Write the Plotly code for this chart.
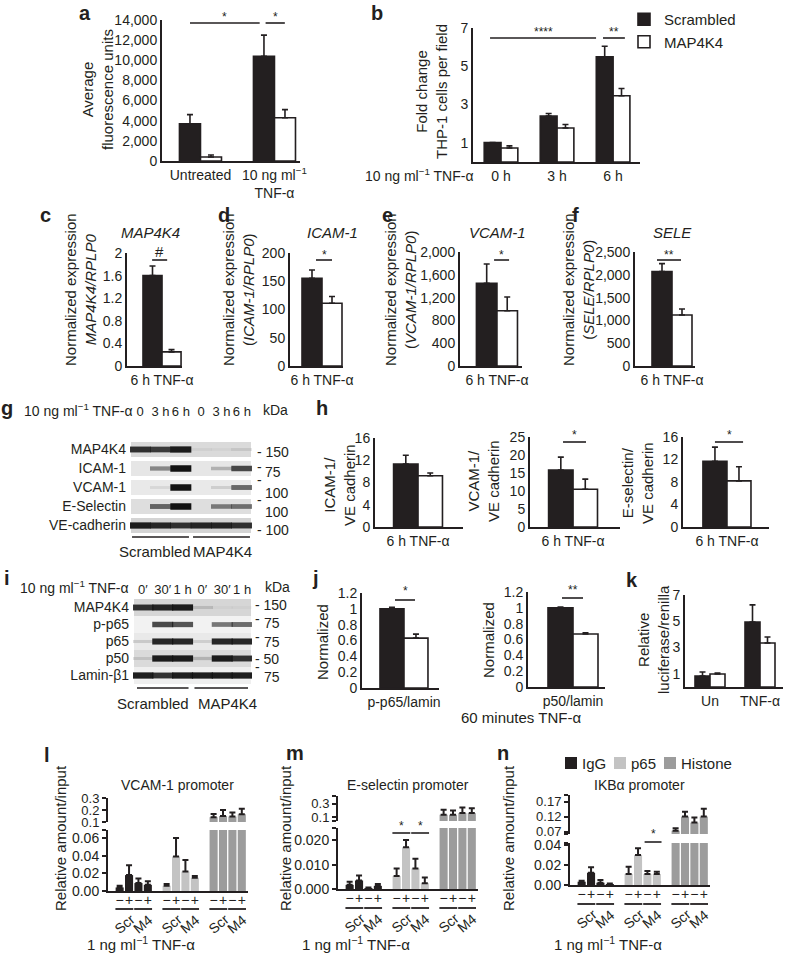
import plotly.graph_objects as go

W, H = 786, 961
FONT = "Liberation Sans, Arial, Helvetica, sans-serif"
INK = "#231f20"
SCR_COLOR = "#231f20"
M4_COLOR = "#ffffff"
IGG_COLOR = "#231f20"
P65_COLOR = "#c3c3c3"
HIS_COLOR = "#9c9c9c"

# ---------------- data ----------------
series_names = ["Scrambled", "MAP4K4"]

# a
a_cats = ["Untreated", "10 ng ml<sup>−1</sup><br>TNF-α"]
a_scr = [3700, 10400]
a_scr_err = [900, 2100]
a_m4 = [400, 4300]
a_m4_err = [200, 800]
a_yticks = [0, 2000, 4000, 6000, 8000, 10000, 12000, 14000]

# b
b_cats = ["0 h", "3 h", "6 h"]
b_scr = [1.02, 2.4, 5.5]
b_scr_err = [0, 0.13, 0.55]
b_m4 = [0.73, 1.78, 3.46]
b_m4_err = [0.11, 0.18, 0.38]
b_yticks = [1, 3, 5, 7]

# c-f (6 h TNF-α)
six_h = ["6 h TNF-α"]
c_scr, c_scr_err, c_m4, c_m4_err = [1.6], [0.17], [0.25], [0.04]
c_yticks = [0, 0.4, 0.8, 1.2, 1.6, 2]
d_scr, d_scr_err, d_m4, d_m4_err = [155], [15], [111], [12]
d_yticks = [0, 50, 100, 150, 200]
e_scr, e_scr_err, e_m4, e_m4_err = [1450], [340], [970], [240]
e_yticks = [0, 400, 800, 1200, 1600, 2000]
f_scr, f_scr_err, f_m4, f_m4_err = [2070], [175], [1120], [130]
f_yticks = [0, 500, 1000, 1500, 2000, 2500]
gene_titles = ["MAP4K4", "ICAM-1", "VCAM-1", "SELE"]

# g (western blot, band intensity 0-1)
g_lanes = ["0", "3 h", "6 h", "0", "3 h", "6 h"]
g_rows = ["MAP4K4", "ICAM-1", "VCAM-1", "E-Selectin", "VE-cadherin"]
g_kda = ["150", "75", "100", "100", "100"]
g_bands = [
    [0.85, 0.8, 0.95, 0.05, 0.04, 0.1],
    [0.0, 0.45, 1.0, 0.0, 0.25, 0.75],
    [0.0, 0.08, 1.0, 0.0, 0.12, 0.6],
    [0.0, 0.6, 1.0, 0.0, 0.5, 0.55],
    [0.95, 0.9, 0.85, 0.9, 0.9, 0.85],
]
blot_groups = ["Scrambled", "MAP4K4"]

# h
h1_scr, h1_scr_err, h1_m4, h1_m4_err = [11.3], [1.6], [9.2], [0.5]
h2_scr, h2_scr_err, h2_m4, h2_m4_err = [15.8], [3.6], [10.5], [2.8]
h3_scr, h3_scr_err, h3_m4, h3_m4_err = [11.7], [2.5], [8.2], [2.5]
h1_yticks = [0, 4, 8, 12, 16]
h2_yticks = [0, 5, 10, 15, 20, 25]
h3_yticks = [0, 4, 8, 12, 16]

# i (western blot)
i_lanes = ["0′", "30′", "1 h", "0′", "30′", "1 h"]
i_rows = ["MAP4K4", "p-p65", "p65", "p50", "Lamin-β1"]
i_kda = ["150", "75", "75", "50", "75"]
i_bands = [
    [0.85, 0.9, 0.95, 0.15, 0.03, 0.03],
    [0.0, 0.75, 0.7, 0.0, 0.55, 0.6],
    [0.15, 0.9, 0.9, 0.12, 0.9, 0.9],
    [0.12, 0.95, 0.95, 0.2, 0.95, 0.85],
    [0.95, 0.85, 0.95, 0.95, 0.95, 0.95],
]

# j
j1_cats = ["p-p65/lamin"]
j2_cats = ["p50/lamin"]
j1_scr, j1_scr_err, j1_m4, j1_m4_err = [1.0], [0.02], [0.63], [0.05]
j2_scr, j2_scr_err, j2_m4, j2_m4_err = [1.0], [0.01], [0.67], [0.015]
j_yticks = [0, 0.2, 0.4, 0.6, 0.8, 1, 1.2]

# k
k_cats = ["Un", "TNF-α"]
k_scr, k_scr_err = [0.84, 4.95], [0.3, 1.3]
k_m4, k_m4_err = [0.99, 3.35], [0.08, 0.45]
k_yticks = [1, 3, 5, 7]

# l, m, n (ChIP)
chip_ab = ["IgG", "p65", "Histone"]
chip_tnf = ["−", "+", "−", "+"]
chip_sh = ["Scr", "M4"]
l_igg, l_igg_err = [0.004, 0.018, 0.009, 0.007], [0.002, 0.011, 0.005, 0.004]
l_p65, l_p65_err = [0.006, 0.039, 0.022, 0.015], [0.002, 0.021, 0.013, 0.002]
l_his, l_his_err = [0.14, 0.15, 0.145, 0.165], [0.027, 0.05, 0.035, 0.045]
m_igg, m_igg_err = [0.0017, 0.0035, 0.0004, 0.0013], [0.0013, 0.002, 0.0002, 0.0008]
m_p65, m_p65_err = [0.0053, 0.0171, 0.0084, 0.0024], [0.0031, 0.003, 0.004, 0.0023]
m_his, m_his_err = [0.135, 0.135, 0.16, 0.16], [0.075, 0.065, 0.085, 0.075]
n_igg, n_igg_err = [0.0033, 0.0123, 0.0023, 0.001], [0.001, 0.0054, 0.0027, 0.0004]
n_p65, n_p65_err = [0.011, 0.030, 0.011, 0.011], [0.0073, 0.0067, 0.003, 0.0023]
n_his, n_his_err = [0.074, 0.121, 0.101, 0.121], [0.008, 0.016, 0.017, 0.026]
l_up_ticks, l_lo_ticks = [0.1, 0.2, 0.3], [0, 0.02, 0.04, 0.06]
m_up_ticks, m_lo_ticks = [0.1, 0.3], [0, 0.01, 0.02]
n_up_ticks, n_lo_ticks = [0.07, 0.12, 0.17], [0, 0.02, 0.04]
promoters = ["VCAM-1 promoter", "E-selectin promoter", "IKBα promoter"]

# ---------------- figure ----------------
fig = go.Figure()
L = {}
ann = []
shp = []
n_ax = [0]


def fy(y):
    return 1 - y / H


def axes(xb, yb, xr, yr, xo=None, yo=None):
    n_ax[0] += 1
    s = "" if n_ax[0] == 1 else str(n_ax[0])
    base = dict(showgrid=False, zeroline=False, showline=True, linecolor=INK,
                linewidth=2, ticks="", tickfont=dict(size=14, color=INK), fixedrange=True,
                tickangle=0)
    xa = dict(base, domain=[xb[0] / W, xb[1] / W], range=xr, anchor="y" + s)
    ya = dict(base, domain=[fy(yb[1]), fy(yb[0])], range=yr, anchor="x" + s)
    if xo:
        xa.update(xo)
    if yo:
        ya.update(yo)
    L["xaxis" + s] = xa
    L["yaxis" + s] = ya
    return "x" + s, "y" + s


def extra_y(xname, yb, yr, yo):
    n_ax[0] += 1
    s = str(n_ax[0])
    ya = dict(showgrid=False, zeroline=False, showline=True, linecolor=INK, linewidth=2,
              tickfont=dict(size=13, color=INK), domain=[fy(yb[1]), fy(yb[0])], range=yr,
              anchor=xname, fixedrange=True)
    ya.update(yo)
    L["yaxis" + s] = ya
    return "y" + s


def err(e):
    return dict(type="data", symmetric=False, array=e, arrayminus=[0] * len(e),
                color=INK, thickness=1.6, width=3)


def pair_panel(xb, yb, xr, yr, cats, scr, scr_e, m4, m4_e, bw, yticks, yfmt="", legend=False):
    pos = list(range(len(cats)))
    xa, ya = axes(xb, yb, xr, yr,
                  xo=dict(tickvals=pos, ticktext=cats),
                  yo=dict(tickmode="array", tickvals=yticks, tickformat=yfmt))
    for vals, e, col, name, sgn in [(scr, scr_e, SCR_COLOR, series_names[0], -1),
                                    (m4, m4_e, M4_COLOR, series_names[1], 1)]:
        fig.add_trace(go.Bar(x=[p + sgn * bw / 2 for p in pos], y=vals, width=bw, name=name,
                             marker=dict(color=col, line=dict(color=INK, width=1.6)),
                             error_y=err(e), xaxis=xa, yaxis=ya, showlegend=legend,
                             legend="legend", hoverinfo="skip"))
    return xa, ya


def sig(xa, x0, x1, yl, yt, text, size=12):
    shp.append(dict(type="line", xref=xa, yref="paper", x0=x0, x1=x1, y0=fy(yl), y1=fy(yl),
                    line=dict(color=INK, width=1.6)))
    ann.append(dict(xref=xa, yref="paper", x=(x0 + x1) / 2, y=fy(yt), text=text, showarrow=False,
                    font=dict(size=size, color=INK), xanchor="center", yanchor="middle"))


def text(x, y, t, size=15, angle=0, xanchor="center", bold=False):
    if bold:
        t = "<b>" + t + "</b>"
    ann.append(dict(xref="paper", yref="paper", x=x / W, y=fy(y), text=t, showarrow=False,
                    textangle=angle, font=dict(size=size, color=INK), xanchor=xanchor,
                    yanchor="middle"))


# ---- a ----
xa, _ = pair_panel((162, 300), (20, 161), [-0.52, 1.345], [0, 14000], a_cats, a_scr, a_scr_err,
                   a_m4, a_m4_err, 0.284, a_yticks, ",")
sig(xa, -0.142, 0.80, 23, 17, "*")
sig(xa, 0.88, 1.14, 23, 17, "*")
text(97, 90, "Average<br>fluorescence units", angle=-90)

# ---- b ----
xa, _ = pair_panel((473, 640), (28, 162), [-0.5, 2.48], [0, 7], b_cats, b_scr, b_scr_err,
                   b_m4, b_m4_err, 0.30, b_yticks, "", legend=True)
sig(xa, -0.196, 1.696, 38, 32, "****")
sig(xa, 1.82, 2.21, 38, 32, "**")
text(432, 92, "Fold change<br>THP-1 cells per field", angle=-90)
text(475, 175, "10 ng ml<sup>−1</sup> TNF-α", size=14, xanchor="right")

# ---- c-f ----
specs_cf = [
    ((127, 182), (253, 366), [-1.84, 1.05], c_scr, c_scr_err, c_m4, c_m4_err, c_yticks, "",
     (-0.52, 0.27, "#", 15), (80, "Normalized expression<br><i>MAP4K4/RPLP0</i>"), 150),
    ((290, 343), (253, 366), [-1.6, 1.05], d_scr, d_scr_err, d_m4, d_m4_err, d_yticks, "",
     (-0.3, 0.5, "*", 12), (238, "Normalized expression<br>(<i>ICAM-1/RPLP0</i>)"), 332),
    ((460, 522), (252, 366), [-1.8, 1.22], e_scr, e_scr_err, e_m4, e_m4_err, e_yticks, ",",
     (-0.14, 0.59, "*", 12), (400, "Normalized expression<br>(<i>VCAM-1/RPLP0</i>)"), 498),
    ((635, 695), (252, 366), [-1.85, 1.15], f_scr, f_scr_err, f_m4, f_m4_err, f_yticks, ",",
     (-0.75, 0.45, "**", 12), (578, "Normalized expression<br>(<i>SELE/RPLP0</i>)"), 672),
]
for k, (xb, yb, xr, s_, se, m_, me, yt, fmt, sg, yt_title, tx) in enumerate(specs_cf):
    top = max(yt)
    xa, _ = pair_panel(xb, yb, xr, [0, top], six_h, s_, se, m_, me, 1.0, yt, fmt)
    sig(xa, sg[0], sg[1], 260, 252 if sg[2] == "#" else 255, sg[2], sg[3])
    text(yt_title[0], 290, yt_title[1], angle=-90)
    text(tx, 232, "<i>" + gene_titles[k] + "</i>", size=15)


# ---- blots ----
def blot(xb, yb, lanes, rows, bands, bgs, half, standoff):
    nr = len(rows)
    xa, ya = axes(xb, yb, [-0.5, 5.5], [nr - 0.5, -0.5],
                  xo=dict(side="top", showline=False, tickvals=list(range(6)), ticktext=lanes,
                          ticklabelstandoff=standoff, tickfont=dict(size=13, color=INK)),
                  yo=dict(showline=False, tickvals=list(range(nr)), ticktext=rows,
                          ticklabelstandoff=3))
    for r in range(nr):
        shp.append(dict(type="rect", xref=xa, yref=ya, x0=-0.45, x1=5.45, y0=r - half, y1=r + half,
                        fillcolor=bgs[r], line_width=0, layer="below"))
    xs, ys, cols, wids = [], [], [], []
    for r, row in enumerate(bands):
        for c, v in enumerate(row):
            xs.append(c)
            ys.append(r)
            cols.append("rgba(18,18,18,%.2f)" % v)
            wids.append(2.5 + 4.0 * v)
    fig.add_trace(go.Scatter(x=xs, y=ys, mode="markers", xaxis=xa, yaxis=ya, showlegend=False,
                             hoverinfo="skip",
                             marker=dict(symbol="line-ew", size=15, color="rgba(0,0,0,0)",
                                         line=dict(color=cols, width=wids))))
    return xa, ya


def blot_groups_marks(xax, spans, line_y, label_x, label_y):
    for gi, (a0, a1) in enumerate(spans):
        shp.append(dict(type="line", xref=xax, yref="paper", x0=a0, x1=a1, y0=fy(line_y),
                        y1=fy(line_y), line=dict(color=INK, width=1.6)))
        ann.append(dict(xref=xax, yref="paper", x=label_x[gi], y=fy(label_y), text=blot_groups[gi],
                        showarrow=False, font=dict(size=15, color=INK), yanchor="middle"))


def kda_marks(labels, label_ys, dash_ys, dash_x, label_x):
    for lab, ly, dy in zip(labels, label_ys, dash_ys):
        if ly == dy:
            text(dash_x, ly, "- " + lab, size=14, xanchor="left")
        else:
            text(dash_x, dy, "-", size=14, xanchor="left")
            text(label_x, ly, lab, size=14, xanchor="left")


xg, _ = blot((130, 252), (440, 535), g_lanes, g_rows, g_bands,
             ["#dadada", "#e6e6e6", "#e9e9e9", "#dedede", "#d4d4d4"], 0.4, 20)
blot_groups_marks(xg, [(-0.4, 2.4), (2.6, 5.4)], 537, [0.73, 4.07], 551)
text(22, 410, "10 ng ml<sup>−1</sup> TNF-α", size=14, xanchor="left")
text(275, 410, "kDa", size=14)
kda_marks(g_kda, [452, 472, 493, 512, 530], [452, 467, 480, 500, 530], 255, 263)

xi, _ = blot((133, 252), (599, 684), i_lanes, i_rows, i_bands,
             ["#d6d6d6", "#f2f2f2", "#e9e9e9", "#dadada", "#efefef"], 0.5, 1)
blot_groups_marks(xi, [(-0.3, 2.3), (2.6, 5.3)], 688, [0.51, 4.24], 703)
text(18, 587, "10 ng ml<sup>−1</sup> TNF-α", size=14, xanchor="left")
text(277, 587, "kDa", size=14)
kda_marks(i_kda, [605, 623, 642, 659, 677], [605, 619, 637, 659, 667], 253, 262)

# ---- h ----
xa, _ = pair_panel((375, 463), (438, 527), [-1.76, 1.84], [0, 16], six_h, h1_scr, h1_scr_err,
                   h1_m4, h1_m4_err, 1.0, h1_yticks)
text(339, 485, "ICAM-1/<br>VE cadherin", angle=-90)
xa, _ = pair_panel((530, 620), (437, 527), [-1.76, 1.92], [0, 25], six_h, h2_scr, h2_scr_err,
                   h2_m4, h2_m4_err, 1.0, h2_yticks)
sig(xa, -0.41, 0.53, 442, 435, "*")
text(484, 481, "VCAM-1/<br>VE cadherin", angle=-90)
xa, _ = pair_panel((683, 769), (437, 527), [-1.83, 1.75], [0, 16], six_h, h3_scr, h3_scr_err,
                   h3_m4, h3_m4_err, 1.0, h3_yticks)
sig(xa, -0.5, 0.67, 442, 435, "*")
text(638, 483, "E-selectin/<br>VE cadherin", angle=-90)

# ---- j ----
xa, _ = pair_panel((362, 439), (593, 688), [-1.75, 1.46], [0, 1.2], j1_cats, j1_scr, j1_scr_err,
                   j1_m4, j1_m4_err, 1.0, j_yticks)
sig(xa, -0.375, 0.46, 600, 591, "*")
text(322, 642, "Normalized", angle=-90)
xa, _ = pair_panel((528, 605), (592, 687), [-1.8, 1.28], [0, 1.2], j2_cats, j2_scr, j2_scr_err,
                   j2_m4, j2_m4_err, 1.0, j_yticks)
sig(xa, -0.44, 0.4, 598, 590, "**")
text(488, 640, "Normalized", angle=-90)
text(521, 717, "60 minutes TNF-α", size=15)

# ---- k ----
xa, _ = pair_panel((685, 783), (595, 687), [-0.5, 1.46], [0, 7], k_cats, k_scr, k_scr_err,
                   k_m4, k_m4_err, 0.30, k_yticks)
text(653, 640, "Relative<br>luciferase/renilla", angle=-90)


# ---- l, m, n ----
def chip_panel(xb, yb_up, yb_lo, yr_up, yr_lo, up_t, up_fmt, lo_t, lo_fmt, data, title, under_y):
    positions = [5 * g + k for g in range(3) for k in range(4)]
    lo_vals = lo_t + [yr_lo[1]]
    lo_txt = [format(v, lo_fmt) for v in lo_t] + [""]
    xa, ya_lo = axes(xb, yb_lo, [-1.24, 13.66], yr_lo,
                     xo=dict(tickvals=positions, ticktext=chip_tnf * 3, tickangle=0,
                             ticklabelstandoff=-5),
                     yo=dict(ticks="outside", ticklen=4, tickwidth=2, tickcolor=INK,
                             tickvals=lo_vals, ticktext=lo_txt))
    up_vals = list(up_t)
    up_txt = [format(v, up_fmt) for v in up_t]
    for end in yr_up:
        if all(abs(end - v) > 1e-9 for v in up_t):
            up_vals.append(end)
            up_txt.append("")
    ya_up = extra_y(xa, yb_up, yr_up, dict(ticks="outside", ticklen=4, tickwidth=2, tickcolor=INK,
                                           tickvals=up_vals, ticktext=up_txt))
    for g, (vals, e, col, name) in enumerate(data):
        xs = positions[4 * g:4 * g + 4]
        for yax in (ya_lo, ya_up):
            fig.add_trace(go.Bar(x=xs, y=vals, width=0.86, name=name,
                                 marker=dict(color=col, line=dict(width=0)),
                                 error_y=dict(type="data", symmetric=False, array=e,
                                              arrayminus=[0] * len(e), color=INK, thickness=2,
                                              width=3),
                                 xaxis=xa, yaxis=yax, showlegend=False, hoverinfo="skip"))
    for g in range(3):
        for p in range(2):
            a0 = positions[4 * g + 2 * p] - 0.45
            a1 = positions[4 * g + 2 * p + 1] + 0.45
            shp.append(dict(type="line", xref=xa, yref="paper", x0=a0, x1=a1,
                            y0=fy(under_y), y1=fy(under_y), line=dict(color=INK, width=1.8)))
            ann.append(dict(xref=xa, yref="paper", x=(a0 + a1) / 2, y=fy(under_y + 15),
                            text=chip_sh[p], showarrow=False, textangle=-40,
                            font=dict(size=14, color=INK), xanchor="center", yanchor="middle"))
    ann.append(dict(xref=xa, yref="paper", x=6.2, y=fy(785), text=title, showarrow=False,
                    font=dict(size=14, color=INK), xanchor="center", yanchor="middle"))
    return xa, positions


xl, pl = chip_panel((108, 248), (798, 822), (830, 891), [0.1, 0.3], [0, 0.069], l_up_ticks, ".1f",
                    l_lo_ticks, ".2f",
                    [(l_igg, l_igg_err, IGG_COLOR, chip_ab[0]), (l_p65, l_p65_err, P65_COLOR, chip_ab[1]),
                     (l_his, l_his_err, HIS_COLOR, chip_ab[2])], promoters[0], 909)
xm, pm = chip_panel((338, 478), (796, 821), (828, 889), [0.04, 0.42], [0, 0.025], m_up_ticks, ".1f",
                    m_lo_ticks, ".3f",
                    [(m_igg, m_igg_err, IGG_COLOR, chip_ab[0]), (m_p65, m_p65_err, P65_COLOR, chip_ab[1]),
                     (m_his, m_his_err, HIS_COLOR, chip_ab[2])], promoters[1], 908)
sig(xm, pm[4] - 0.45, pm[5] + 0.45, 833, 826, "*")
sig(xm, pm[6] - 0.45, pm[7] + 0.45, 833, 826, "*")
xn, pn = chip_panel((570, 710), (795, 834), (843, 885), [0.063, 0.193], [0, 0.042], n_up_ticks, ".2f",
                    n_lo_ticks, ".2f",
                    [(n_igg, n_igg_err, IGG_COLOR, chip_ab[0]), (n_p65, n_p65_err, P65_COLOR, chip_ab[1]),
                     (n_his, n_his_err, HIS_COLOR, chip_ab[2])], promoters[2], 904)
sig(xn, pn[6] - 0.3, pn[7] + 0.5, 842, 834, "*")
for xx in (60, 285, 508):
    text(xx, 838, "Relative amount/input", angle=-90)
for xx in (85, 300, 552):
    text(xx, 943, "1 ng ml<sup>−1</sup> TNF-α", size=15, xanchor="left")

# ChIP legend (n)
for name, col, sx in zip(chip_ab, [IGG_COLOR, P65_COLOR, HIS_COLOR], [565, 614, 664]):
    shp.append(dict(type="rect", xref="paper", yref="paper", x0=sx / W, x1=(sx + 12) / W,
                    y0=fy(769), y1=fy(757), fillcolor=col, line_width=0))
    text(sx + 15, 763, name, size=15, xanchor="left")

# ---- panel letters ----
for lt, x, y in [("a", 85, 13), ("b", 377, 13), ("c", 45, 215), ("d", 224, 215), ("e", 387, 215),
                 ("f", 575, 215), ("g", 7, 408), ("h", 322, 408), ("i", 7, 578), ("j", 315, 578),
                 ("k", 632, 580), ("l", 47, 755), ("m", 295, 753), ("n", 503, 753)]:
    text(x, y, lt, size=20, bold=True)

fig.update_layout(
    template="none",
    width=W, height=H,
    margin=dict(l=0, r=0, t=0, b=0),
    paper_bgcolor="white", plot_bgcolor="rgba(0,0,0,0)",
    font=dict(family=FONT, size=14, color=INK),
    barmode="overlay",
    hovermode=False,
    showlegend=True,
    legend=dict(x=624 / W, y=fy(3), xanchor="left", yanchor="top", bgcolor="rgba(0,0,0,0)",
                font=dict(size=15, color=INK), itemwidth=30, tracegroupgap=0),
    annotations=ann,
    shapes=shp,
    **L,
)

fig.write_html("out.html", config={"displayModeBar": False},
               post_script="document.body.style.margin='0';")
